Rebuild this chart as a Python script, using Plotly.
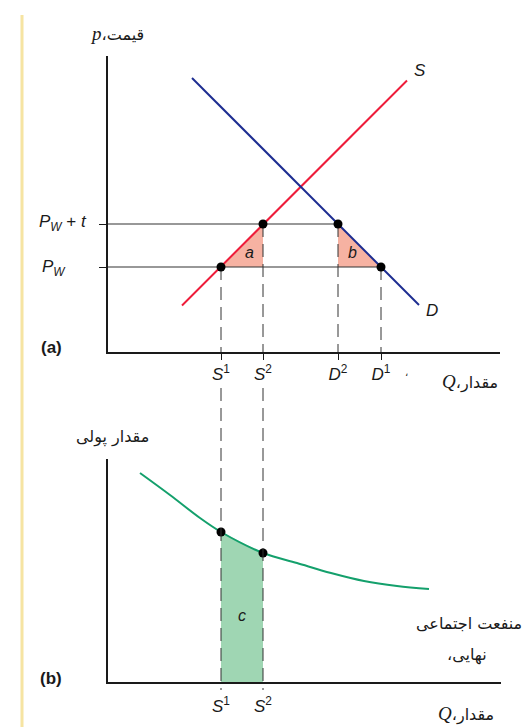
import plotly.graph_objects as go

W, H = 528, 727

# quantities on the Q axis (S1, S2 supply, D2, D1 demand)
S1, S2, D2, D1 = 11.3, 15.5, 23.0, 27.3
# world price and world price plus tariff
PW, PWT = 8.5, 12.8

# supply / demand line ends
supply_q = [7.4, 29.9]
supply_p = [4.65, 27.15]
demand_q = [8.4, 31.1]
demand_p = [27.4, 4.7]

# marginal social benefit curve (panel b)
msb_q = [3.2, 6.2, 9.2, 11.3, 15.5, 18.9, 22.3, 25.6, 28.9, 32.1]
msb_v = [20.9, 18.7, 16.4, 15.0, 12.9, 11.9, 10.9, 10.1, 9.6, 9.3]
MSB_S1, MSB_S2 = 15.0, 12.9

q_ticks = [S1, S2, D2, D1]
q_labels = ['<i>S</i><sup>1</sup>', '<i>S</i><sup>2</sup>',
            '<i>D</i><sup>2</sup>', '<i>D</i><sup>1</sup>']

RED = '#ee1c3a'
BLUE = '#1d2d91'
GREEN = '#14a06c'
PINK = '#f6b2a2'
FILLG = '#9fd6b3'
INK = '#1a1a1a'
GRAY = '#333333'
LAT = 'Liberation Sans'
FA = 'DejaVu Sans'


def fx(px):
    return px / W


def fy(py):
    return 1 - py / H


fig = go.Figure()

####################################################
# panel (a)

# deadweight triangles a, b
fig.add_trace(go.Scatter(x=[S1, S2, S2, S1], y=[PW, PWT, PW, PW], fill='toself',
                         fillcolor=PINK, line=dict(width=0), mode='lines',
                         xaxis='x', yaxis='y'))
fig.add_trace(go.Scatter(x=[D2, D2, D1, D2], y=[PWT, PW, PW, PWT], fill='toself',
                         fillcolor=PINK, line=dict(width=0), mode='lines',
                         xaxis='x', yaxis='y'))

# price lines
fig.add_trace(go.Scatter(x=[0, D2], y=[PWT, PWT], mode='lines',
                         line=dict(color=GRAY, width=1.2), xaxis='x', yaxis='y'))
fig.add_trace(go.Scatter(x=[0, D1], y=[PW, PW], mode='lines',
                         line=dict(color=GRAY, width=1.2), xaxis='x', yaxis='y'))

# dashed drop lines
for q, p in [(S1, PW), (S2, PWT), (D2, PWT), (D1, PW)]:
    fig.add_trace(go.Scatter(x=[q, q], y=[p, 0], mode='lines',
                             line=dict(color=GRAY, width=1, dash='13px,7px'),
                             xaxis='x', yaxis='y'))

fig.add_trace(go.Scatter(x=supply_q, y=supply_p, mode='lines',
                         line=dict(color=RED, width=2), xaxis='x', yaxis='y'))
fig.add_trace(go.Scatter(x=demand_q, y=demand_p, mode='lines',
                         line=dict(color=BLUE, width=2), xaxis='x', yaxis='y'))

fig.add_trace(go.Scatter(x=[S1, S2, D2, D1], y=[PW, PWT, PWT, PW], mode='markers',
                         marker=dict(color='black', size=9), xaxis='x', yaxis='y'))

####################################################
# panel (b)

fig.add_trace(go.Scatter(x=[S1, S1, S2, S2, S1], y=[0, MSB_S1, MSB_S2, 0, 0],
                         fill='toself', fillcolor=FILLG, line=dict(width=0),
                         mode='lines', xaxis='x2', yaxis='y2'))
fig.add_trace(go.Scatter(x=msb_q, y=msb_v, mode='lines',
                         line=dict(color=GREEN, width=2, shape='spline'),
                         xaxis='x2', yaxis='y2'))
fig.add_trace(go.Scatter(x=[S1, S2], y=[MSB_S1, MSB_S2], mode='markers',
                         marker=dict(color='black', size=9), xaxis='x2', yaxis='y2'))

# dashed connectors running from panel (a) labels into panel (b)
shapes = []
for q in [S1, S2]:
    shapes.append(dict(type='line', xref='x2', yref='paper', x0=q, x1=q,
                       y0=fy(388), y1=fy(690),
                       line=dict(color=GRAY, width=1, dash='13px,7px')))
# yellow page edge
shapes.append(dict(type='line', xref='paper', yref='paper', x0=fx(22), x1=fx(22),
                   y0=fy(15), y1=0, line=dict(color='#f6e4a2', width=3), layer='below'))

fa_var = lambda v: f'<span style="font-family:Liberation Serif;font-size:19px"><i>{v}</i></span>'

annotations = [
    dict(text=fa_var('p') + '،قیمت', x=fx(117), y=fy(33), font=dict(family=FA, size=16)),
    dict(text='<i>S</i>', x=supply_q[1], y=supply_p[1], xref='x', yref='y', xshift=13, yshift=10,
         font=dict(family=LAT, size=17)),
    dict(text='<i>D</i>', x=demand_q[1], y=demand_p[1], xref='x', yref='y', xshift=13, yshift=-5,
         font=dict(family=LAT, size=17)),
    dict(text='<i>a</i>', x=(S1 + 2 * S2) / 3, y=(2 * PW + PWT) / 3, xref='x', yref='y',
         font=dict(family=LAT, size=16)),
    dict(text='<i>b</i>', x=(2 * D2 + D1) / 3, y=(2 * PW + PWT) / 3, xref='x', yref='y',
         font=dict(family=LAT, size=16)),
    dict(text='<i>P</i><sub><i>W</i></sub> + <i>t</i>', x=fx(37), y=PWT, yref='y', xanchor='left',
         yshift=1, font=dict(family=LAT, size=17)),
    dict(text='<i>P</i><sub><i>W</i></sub>', x=fx(40), y=PW, yref='y', xanchor='left',
         yshift=-1, font=dict(family=LAT, size=17)),
    dict(text='<b>(a)</b>', x=fx(51), y=fy(348), font=dict(family=LAT, size=17)),
    dict(text='،', x=fx(406), y=fy(372), font=dict(family=FA, size=10)),
    dict(text=fa_var('Q') + '،مقدار', x=fx(470), y=fy(382), font=dict(family=FA, size=16)),
    dict(text='مقدار پولی', x=fx(112), y=fy(437), font=dict(family=FA, size=16)),
    dict(text='<i>c</i>', x=(S1 + S2) / 2, y=fy(615), xref='x2', font=dict(family=LAT, size=16)),
    dict(text='<b>(b)</b>', x=fx(51), y=fy(678), font=dict(family=LAT, size=17)),
    dict(text='منفعت اجتماعی', x=fx(469), y=fy(623), font=dict(family=FA, size=16)),
    dict(text='،نهایی', x=fx(467), y=fy(655), font=dict(family=FA, size=16)),
    dict(text=fa_var('Q') + '،مقدار', x=fx(466), y=fy(714), font=dict(family=FA, size=16)),
]
for a in annotations:
    a.setdefault('xref', 'paper')
    a.setdefault('yref', 'paper')
    a.setdefault('xanchor', 'center')
    a.setdefault('yanchor', 'middle')
    a['showarrow'] = False
    a['font'].setdefault('color', INK)

axis_common = dict(showgrid=False, zeroline=False, showline=True, linecolor=INK,
                   linewidth=2, fixedrange=True)

fig.update_layout(
    width=W, height=H,
    margin=dict(l=0, r=0, t=0, b=0),
    paper_bgcolor='white', plot_bgcolor='rgba(0,0,0,0)',
    showlegend=False,
    shapes=shapes,
    annotations=annotations,
    xaxis=dict(axis_common, domain=[fx(108), fx(500)], range=[0, 39.2], anchor='y',
               tickmode='array', tickvals=q_ticks, ticktext=q_labels, ticks='outside',
               ticklen=6, tickcolor=INK, tickfont=dict(family=LAT, size=17, color=INK)),
    yaxis=dict(axis_common, domain=[fy(352), fy(56)], range=[0, 29.6], anchor='x',
               tickmode='array', tickvals=[PW, PWT], ticks='outside', ticklen=7,
               tickcolor=INK, showticklabels=False),
    xaxis2=dict(axis_common, domain=[fx(108), fx(501)], range=[0, 39.3], anchor='y2',
                tickmode='array', tickvals=[S1, S2], ticktext=q_labels[:2], ticks='',
                ticklabelstandoff=8, tickfont=dict(family=LAT, size=17, color=INK)),
    yaxis2=dict(axis_common, domain=[fy(682), fy(459)], range=[0, 22.3], anchor='x2',
                showticklabels=False, ticks=''),
)

# page body has a default 8px margin; drop it so the figure fills the window
fig.write_html("out.html", config={'displayModeBar': False},
               post_script="document.body.style.margin='0';")
